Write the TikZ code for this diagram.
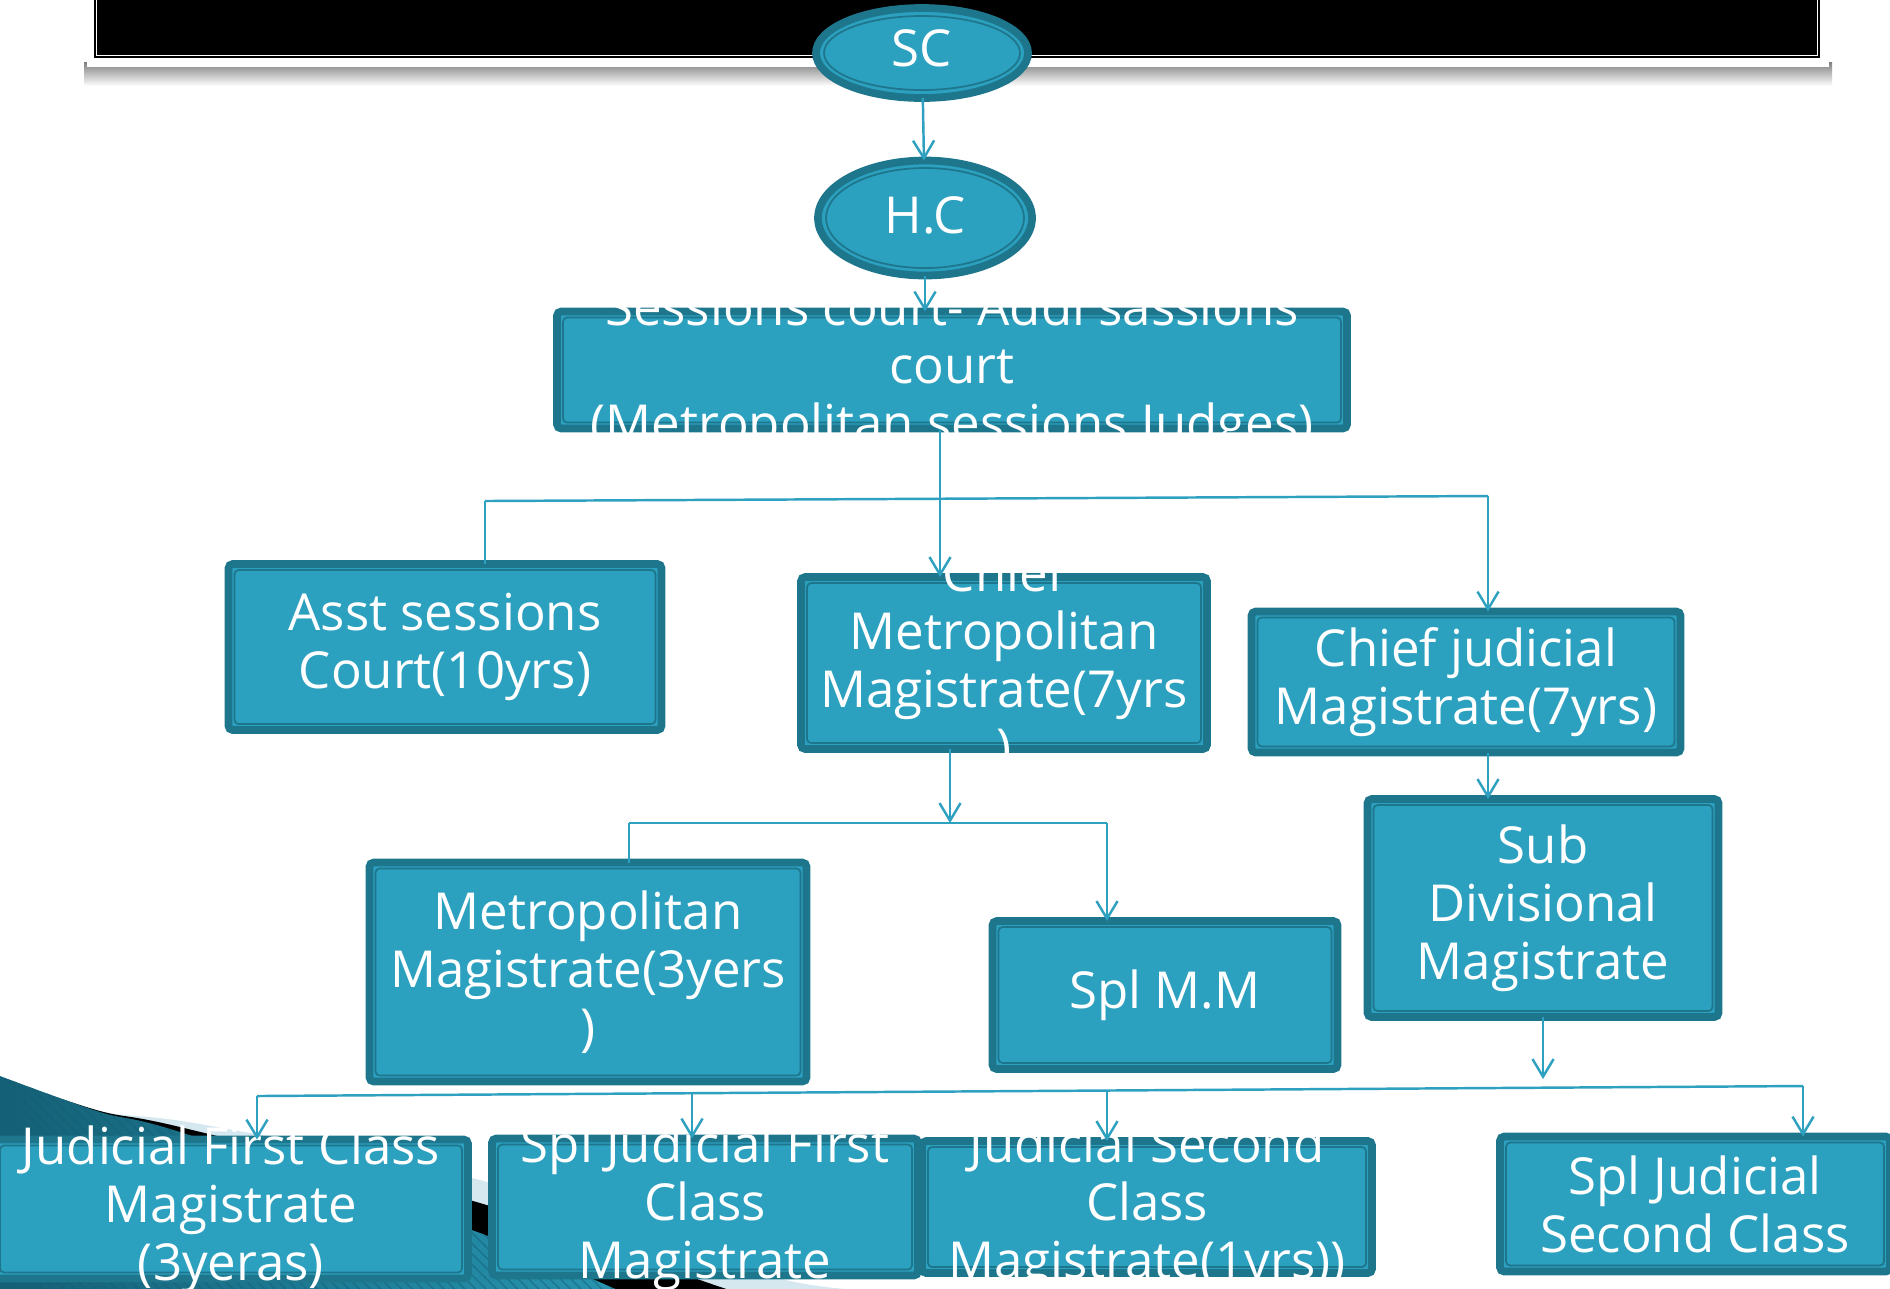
\documentclass[tikz,border=0pt]{standalone}
\usepackage{fontspec}
\setmainfont{Open Sans}
\usetikzlibrary{arrows.meta,shapes.geometric,patterns}
\definecolor{courtfill}{RGB}{44,161,191}
\definecolor{courtdark}{RGB}{30,118,140}
\definecolor{linkteal}{RGB}{46,160,192}
\definecolor{swooshlight}{RGB}{213,232,240}
\definecolor{swooshdeep}{RGB}{20,96,118}
\definecolor{swooshmid}{RGB}{40,150,178}

\begin{document}
\begin{tikzpicture}[x=0.1mm, y=-0.1mm]
  \tikzset{
    court/.style={draw=courtdark, line width=2.2pt, fill=courtfill, rounded corners=1.2pt,
      inner sep=0pt, outer sep=0pt,
      path picture={\draw[courtdark, line width=0.5pt]
        ([shift={(1.7pt,1.7pt)}]path picture bounding box.south west) rectangle
        ([shift={(-1.7pt,-1.7pt)}]path picture bounding box.north east);}},
    seat/.style={ellipse, draw=courtdark, line width=2.2pt, fill=courtfill, inner sep=0pt, outer sep=0pt},
    txt/.style={text=white, align=center, inner sep=0pt, font=\fontsize{14.5}{16.5}\selectfont},
    link/.style={draw=linkteal, line width=0.7pt},
    >={Straight Barb[length=5pt,width=6pt]}
  }
  \useasboundingbox (0,0) rectangle (1890,1288);

  % title banner
  \fill[top color=black!50, bottom color=white] (84,62) rectangle (1832,86);
  \fill[white] (87,-10) rectangle (1829,67);
  \fill[black] (94,-10) rectangle (1820,58);
  \draw[white, line width=0.5pt] (96.5,-10) rectangle (1817.5,55.5);

  % swoosh at the bottom left
  \fill[swooshlight] plot[smooth] coordinates {(0,1078) (100,1111) (200,1124) (480,1180) (800,1283) (1080,1295)} -- (0,1300) -- cycle;
  \fill[black] plot[smooth] coordinates {(0,1078) (100,1111) (180,1127) (480,1203) (700,1280) (760,1300)} -- (0,1300) -- cycle;
  \shade[left color=swooshdeep, right color=swooshmid] plot[smooth] coordinates {(0,1076) (100,1112) (180,1132) (480,1233) (640,1300)} -- (0,1300) -- cycle;
  \fill[pattern=north west lines, pattern color=swooshdeep, opacity=0.5] plot[smooth] coordinates {(0,1076) (100,1112) (180,1132) (480,1233) (640,1300)} -- (0,1300) -- cycle;

  % courts
  \node[seat, minimum width=21.2mm, minimum height=9mm] (sc) at (922,53) {};
  \draw[courtdark, line width=0.5pt] (sc.center) ellipse [x radius=98, y radius=37];
  \node[txt] (scT) at (922,48) {SC};

  \node[seat, minimum width=21.4mm, minimum height=11.5mm] (hc) at (925,218) {};
  \draw[courtdark, line width=0.5pt] (hc.center) ellipse [x radius=99, y radius=50];
  \node[txt] (hcT) at (925,215) {H.C};

  \node[court, minimum width=79mm, minimum height=11.7mm] (sess) at (952,370) {};
  \node[txt] (sessT) at (sess) {Sessions court- Addl sassions\\court\\(Metropolitan sessions Judges)};

  \node[court, minimum width=43.3mm, minimum height=16.6mm] (asst) at (445,647) {};
  \node[txt] (asstT) at (asst) {Asst sessions\\Court(10yrs)};

  \node[court, minimum width=40.6mm, minimum height=17.2mm] (cmm) at (1004,663) {};
  \node[txt] (cmmT) at (cmm) {Chief\\Metropolitan\\Magistrate(7yrs\\)};

  \node[court, minimum width=42.9mm, minimum height=14.1mm] (cjm) at (1466,682) {};
  \node[txt] (cjmT) at (cjm) {Chief judicial\\Magistrate(7yrs)};

  \node[court, minimum width=43.7mm, minimum height=21.9mm] (met) at (588,972) {};
  \node[txt] (metT) at (met) {Metropolitan\\Magistrate(3yers\\)};

  \node[court, minimum width=34.5mm, minimum height=14.8mm] (smm) at (1165,995) {};
  \node[txt] (smmT) at (smm) {Spl M.M};

  \node[court, minimum width=35.1mm, minimum height=21.8mm] (sdm) at (1543,908) {};
  \node[txt] (sdmT) at (sdm) {Sub\\Divisional\\Magistrate};

  \node[court, minimum width=47.4mm, minimum height=13.9mm] (jfc) at (231,1209) {};
  \node[txt] (jfcT) at (jfc) {Judicial First Class\\Magistrate\\(3yeras)};

  \node[court, minimum width=42.6mm, minimum height=13.7mm] (sjfc) at (705,1207) {};
  \node[txt] (sjfcT) at (sjfc) {Spl Judicial First\\Class\\Magistrate};

  \node[court, minimum width=45mm, minimum height=13.2mm] (jsc) at (1147,1207) {};
  \node[txt] (jscT) at (jsc) {Judicial Second\\Class\\Magistrate(1yrs))};

  \node[court, minimum width=39mm, minimum height=13.5mm] (sjsc) at (1695,1204) {};
  \node[txt] (sjscT) at (sjsc) {Spl Judicial\\Second Class};

  % connectors
  \draw[link, ->] (sc) -- (hc);
  \draw[link, ->] (hc.south) -- (sess.north -| hc.south);

  \coordinate (b1L) at (485,501);
  \coordinate (b1M) at (940,499);
  \coordinate (b1R) at (1488,496);
  \draw[link] (b1L) -- (b1R);
  \draw[link] (sess.south -| b1M) -- (b1M);
  \draw[link] (b1L) -- (b1L |- asst.north);
  \draw[link, ->] (b1M) -- (b1M |- cmm.north);
  \draw[link, ->] (b1R) -- (b1R |- cjm.north);

  \coordinate (b2L) at (629,823);
  \coordinate (b2M) at (950,823);
  \coordinate (b2R) at (1107,823);
  \draw[link] (b2L) -- (b2R);
  \draw[link, ->] (cmm.south -| b2M) -- (b2M);
  \draw[link] (b2L) -- (b2L |- met.north);
  \draw[link, ->] (b2R) -- (b2R |- smm.north);

  \draw[link, ->] (cjm.south -| b1R) -- (sdm.north -| b1R);

  \coordinate (b3L) at (257,1096);
  \coordinate (b3A) at (692,1093);
  \coordinate (b3B) at (1107,1090.5);
  \coordinate (b3R) at (1803,1086);
  \coordinate (b3S) at (1543,1079);
  \draw[link] (b3L) -- (b3R);
  \draw[link, ->] (sdm.south) -- (b3S);
  \draw[link, ->] (b3L) -- (b3L |- jfc.north);
  \draw[link, ->] (b3A) -- (b3A |- sjfc.north);
  \draw[link, ->] (b3B) -- (b3B |- jsc.north);
  \draw[link, ->] (b3R) -- (b3R |- sjsc.north);
\end{tikzpicture}
\end{document}
